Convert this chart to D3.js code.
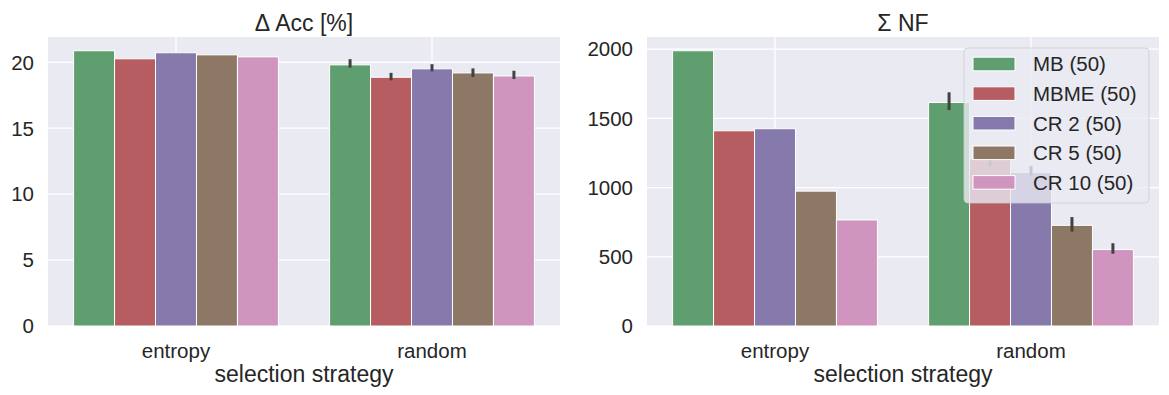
<!DOCTYPE html>
<html>
<head>
<meta charset="utf-8">
<script src="https://cdn.jsdelivr.net/npm/d3@7"></script>
<style>
  body { margin: 0; background: #fff; }
  text { font-family: "Liberation Sans", Arial, sans-serif; fill: #262626; }
</style>
</head>
<body>
<div id="chart"></div>
<script>
var width = 1169,
    height = 395;

// data
var categories = ["entropy", "random"];
var methods = ["MB (50)", "MBME (50)", "CR 2 (50)", "CR 5 (50)", "CR 10 (50)"];
var colors = ["#5F9E6E", "#B55D60", "#857AAB", "#8D7866", "#D095BF"];

var accEntropy = [20.87, 20.26, 20.72, 20.56, 20.41];
var accRandom = [19.80, 18.86, 19.50, 19.19, 18.96];
var accRandomLo = [19.70, 18.74, 19.42, 18.99, 18.84];
var accRandomHi = [20.12, 19.08, 19.74, 19.42, 19.24];

var nfEntropy = [1988, 1410, 1425, 974, 766];
var nfRandom = [1614, 1207, 1110, 727, 552];
var nfRandomLo = [1570, 1165, 1098, 693, 533];
var nfRandomHi = [1677, 1250, 1146, 776, 587];

var accTicks = [0, 5, 10, 15, 20];
var nfTicks = [0, 500, 1000, 1500, 2000];

var svg = d3.select("#chart").append("svg")
    .attr("width", width)
    .attr("height", height);

function buildRows(entropy, random, lo, hi) {
    var rows = [];
    methods.forEach(function(m, i) {
        rows.push({cat: "entropy", hue: i, value: entropy[i], lo: null, hi: null});
        rows.push({cat: "random", hue: i, value: random[i], lo: lo[i], hi: hi[i]});
    });
    return rows;
}

function drawPanel(opts) {
    var x0 = opts.left, x1 = opts.left + 512,
        y0 = 37, y1 = 326;

    var maxVal = d3.max(opts.rows, function(d) { return Math.max(d.value, d.hi || 0); });
    var y = d3.scaleLinear().domain([0, maxVal * 1.05]).range([y1, y0]);
    var x = d3.scaleLinear().domain([-0.5, 1.5]).range([x0, x1]);

    var g = svg.append("g");

    g.append("rect")
        .attr("x", x0).attr("y", y0)
        .attr("width", x1 - x0).attr("height", y1 - y0)
        .attr("fill", "#EAEAF2");

    // grid
    g.selectAll(".hgrid").data(opts.ticks).enter().append("line")
        .attr("x1", x0).attr("x2", x1)
        .attr("y1", function(d) { return y(d); })
        .attr("y2", function(d) { return y(d); })
        .attr("stroke", "#fff").attr("stroke-width", 1.3);
    g.selectAll(".vgrid").data(categories).enter().append("line")
        .attr("x1", function(d, i) { return x(i); })
        .attr("x2", function(d, i) { return x(i); })
        .attr("y1", y0).attr("y2", y1)
        .attr("stroke", "#fff").attr("stroke-width", 1.3);

    var bw = 0.8 / methods.length;
    function barX(d) { return x(categories.indexOf(d.cat) - 0.4 + d.hue * bw); }

    g.selectAll(".bar").data(opts.rows).enter().append("rect")
        .attr("x", barX)
        .attr("width", x(bw) - x(0))
        .attr("y", function(d) { return y(d.value); })
        .attr("height", function(d) { return y(0) - y(d.value); })
        .attr("fill", function(d) { return colors[d.hue]; })
        .attr("stroke", "#fff").attr("stroke-width", 1);

    g.selectAll(".err").data(opts.rows.filter(function(d) { return d.lo !== null; }))
        .enter().append("line")
        .attr("x1", function(d) { return barX(d) + (x(bw) - x(0)) / 2; })
        .attr("x2", function(d) { return barX(d) + (x(bw) - x(0)) / 2; })
        .attr("y1", function(d) { return y(d.lo); })
        .attr("y2", function(d) { return y(d.hi); })
        .attr("stroke", "#424242").attr("stroke-width", 3)
        .attr("stroke-linecap", "square");

    // y tick labels
    g.selectAll(".ylab").data(opts.ticks).enter().append("text")
        .attr("x", x0 - 14)
        .attr("y", function(d) { return y(d); })
        .attr("dy", "0.36em")
        .attr("text-anchor", "end")
        .style("font-size", "20.5px")
        .text(function(d) { return d; });

    // x tick labels
    g.selectAll(".xlab").data(categories).enter().append("text")
        .attr("x", function(d, i) { return x(i); })
        .attr("y", 358)
        .attr("text-anchor", "middle")
        .style("font-size", "20.5px")
        .text(function(d) { return d; });

    g.append("text")
        .attr("x", (x0 + x1) / 2).attr("y", 382)
        .attr("text-anchor", "middle")
        .style("font-size", "23px")
        .text("selection strategy");

    g.append("text")
        .attr("x", (x0 + x1) / 2).attr("y", 30.5)
        .attr("text-anchor", "middle")
        .style("font-size", "23px")
        .text(opts.title);

    return g;
}

drawPanel({
    left: 48,
    title: "\u0394 Acc [%]",
    rows: buildRows(accEntropy, accRandom, accRandomLo, accRandomHi),
    ticks: accTicks
});

var right = drawPanel({
    left: 647,
    title: "\u03A3 NF",
    rows: buildRows(nfEntropy, nfRandom, nfRandomLo, nfRandomHi),
    ticks: nfTicks
});

// Legend
var legend = right.append("g").attr("transform", "translate(964,48)");
legend.append("rect")
    .attr("width", 185).attr("height", 155)
    .attr("rx", 4).attr("ry", 4)
    .attr("fill", "#EAEAF2").attr("fill-opacity", 0.8)
    .attr("stroke", "#CCCCCC").attr("stroke-opacity", 0.8).attr("stroke-width", 1);
var item = legend.selectAll(".item").data(methods).enter().append("g")
    .attr("transform", function(d, i) { return "translate(0," + (16 + i * 29.6) + ")"; });
item.append("rect")
    .attr("x", 9).attr("y", -6.8)
    .attr("width", 42).attr("height", 13.6)
    .attr("fill", function(d, i) { return colors[i]; })
    .attr("stroke", "#fff").attr("stroke-width", 1);
item.append("text")
    .attr("x", 69).attr("dy", "0.36em")
    .style("font-size", "20.5px")
    .text(function(d) { return d; });
</script>
</body>
</html>
